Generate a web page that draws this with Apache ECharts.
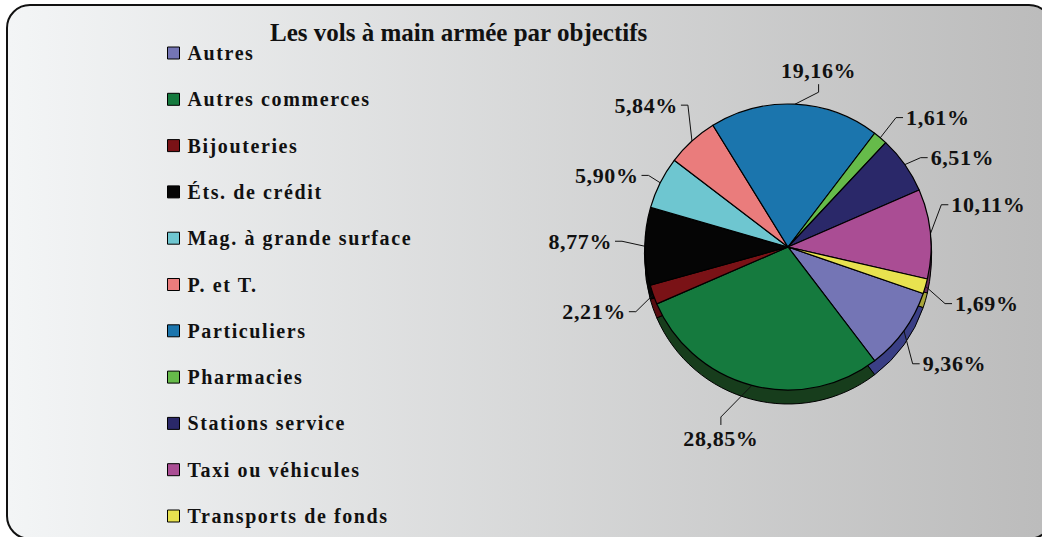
<!DOCTYPE html>
<html><head><meta charset="utf-8">
<script src="https://cdn.jsdelivr.net/npm/echarts@6/dist/echarts.min.js"></script>
<style>
html,body{margin:0;padding:0;background:#fff;overflow:hidden;width:1042px;height:537px;}
#frame{position:absolute;left:6px;top:4px;width:1047px;height:536px;box-sizing:border-box;border:2px solid #111;border-radius:24px;background:linear-gradient(to right,#f3f5f6,#bcbcbc 99%);}
#chart{position:absolute;left:0;top:0;width:1042px;height:537px;}
#chart text{letter-spacing:1.6px;}
#chart text[style*="25px"]{letter-spacing:0;}
#chart text[style*="22px"]{letter-spacing:0.6px;}
</style></head>
<body><div id="frame"></div><div id="chart"></div>
<script>
const titleText = 'Les vols à main armée par objectifs';
const categories = ['Autres','Autres commerces','Bijouteries','Éts. de crédit','Mag. à grande surface','P. et T.','Particuliers','Pharmacies','Stations service','Taxi ou véhicules','Transports de fonds'];
const values = [9.36, 28.85, 2.21, 8.77, 5.90, 5.84, 19.16, 1.61, 6.51, 10.11, 1.69];
const colors = ['#7475b5','#157a3e','#7a1216','#050505','#6ec6d0','#ea7c7c','#1b75ad','#66bb4a','#2a2869','#aa4d94','#e8e24f'];
const sideColors = ['#3a3f85','#173d1c','#560c0f','#050505','#3d7d86','#9a4c4c','#0f4670','#3d7a2b','#15143a','#6a2d5c','#a8a53a'];
// label placement tweaks (layout only), [dx, dy] in px relative to the default outside position
const labelShift = [[-2,26],[-28,20],[-5,13],[-10,-5],[0,-2],[5,-27],[23,0],[7,-11],[5,0],[-2,-28],[7,14]];

const FONT = 'Liberation Serif, Times New Roman, serif';
const fmt = v => v.toFixed(2).replace('.', ',') + '%';
const CENTER = [788, 247];
const R = 143;

const chart = echarts.init(document.getElementById('chart'), null, {renderer: 'svg'});

function pieData(cols) {
  return categories.map((n, i) => ({name: n, value: values[i], itemStyle: {color: cols[i]}}));
}

chart.setOption({
  animation: false,
  backgroundColor: 'transparent',
  title: {
    text: titleText, left: 270, top: 20, padding: 0,
    textStyle: {fontFamily: FONT, fontWeight: 'bold', fontSize: 25, color: '#111'}
  },
  legend: {
    orient: 'vertical', left: 167, top: 43, padding: 0,
    itemWidth: 12, itemHeight: 12, itemGap: 26.3, icon: 'rect',
    selectedMode: false, data: categories,
    itemStyle: {borderColor: '#000', borderWidth: 1},
    textStyle: {fontFamily: FONT, fontWeight: 'bold', fontSize: 20, color: '#111', lineHeight: 20, padding: [0, 0, 0, 3]}
  },
  series: [
    {
      type: 'pie', z: 3, center: CENTER, radius: R, startAngle: -19, clockwise: true,
      silent: true, emphasis: {disabled: true}, avoidLabelOverlap: true,
      data: pieData(colors),
      itemStyle: {borderColor: '#000', borderWidth: 1.2},
      label: {show: true, position: 'outside', formatter: p => fmt(p.value), fontFamily: FONT, fontWeight: 'bold', fontSize: 22, color: '#111', distanceToLabelLine: 3},
      labelLine: {show: true, length: 12, length2: 8, smooth: false, lineStyle: {color: '#111', width: 1}},
      labelLayout: function (p) {
        const pts = p.labelLinePoints;
        if (!pts) return {};
        const sh = labelShift[p.dataIndex] || [0, 0];
        const dx = pts[1][0] - pts[0][0], dy = pts[1][1] - pts[0][1];
        if (Math.abs(dx) < 0.5 * Math.abs(dy)) {
          const s = dy < 0 ? -1 : 1;
          const p1 = [pts[1][0] + sh[0], pts[1][1] + sh[1]];
          const p2 = [p1[0], p1[1] + s * 8];
          return {x: p2[0], y: p2[1] + s * 3, align: 'center', verticalAlign: s < 0 ? 'bottom' : 'top', labelLinePoints: [pts[0], p1, p2]};
        }
        const right = pts[2][0] >= pts[1][0];
        const s = right ? 1 : -1;
        const p2 = [pts[2][0] + sh[0], pts[2][1] + sh[1]];
        const p1 = [p2[0] - s * 7, p2[1]];
        return {x: p2[0] + s * 3, y: p2[1], align: right ? 'left' : 'right', verticalAlign: 'middle', labelLinePoints: [pts[0], p1, p2]};
      }
    },
    {
      type: 'pie', z: 2, center: [CENTER[0], CENTER[1] + 14], radius: R, startAngle: -19, clockwise: true,
      silent: true, emphasis: {disabled: true}, legendHoverLink: false,
      data: pieData(sideColors),
      itemStyle: {borderColor: '#000', borderWidth: 1},
      label: {show: false}, labelLine: {show: false}
    },
    {
      type: 'pie', z: 1, center: [CENTER[0], CENTER[1] + 7], radius: R + 0.5, startAngle: -19, clockwise: true,
      silent: true, emphasis: {disabled: true}, legendHoverLink: false,
      data: pieData(sideColors),
      itemStyle: {borderColor: '#000', borderWidth: 1},
      label: {show: false}, labelLine: {show: false}
    }
  ]
});
</script>
</body></html>
